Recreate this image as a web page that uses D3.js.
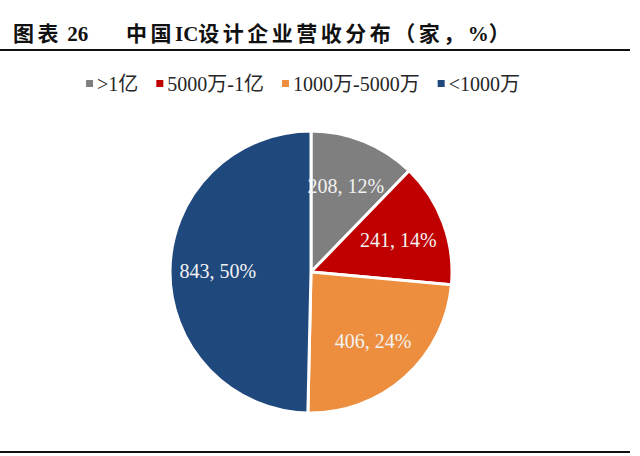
<!DOCTYPE html>
<html>
<head>
<meta charset="utf-8">
<script src="https://cdn.jsdelivr.net/npm/d3@7"></script>
<style>
  body { margin: 0; background: #fff; }
  svg { display: block; }
  text { font-family: "Liberation Serif", "DejaVu Serif", "Noto Sans CJK SC", serif; }
</style>
</head>
<body>
<svg id="chart"></svg>
<script>
// chart data
const categories = [">1亿", "5000万-1亿", "1000万-5000万", "<1000万"];
const counts = [208, 241, 406, 843];
const colors = ["#7f7f7f", "#c00000", "#ed8e3e", "#1f497d"];
const titleNo = "图表 26";
const titleText = "中国IC设计企业营收分布（家，%）";

const width = 640, height = 456;

const svg = d3.select("#chart")
    .attr("width", width)
    .attr("height", height);

// title: CJK runs get a bit of spacing, latin runs don't
function addTitle(str, x) {
  const t = svg.append("text")
      .attr("x", x)
      .attr("y", 41)
      .attr("font-weight", "bold")
      .attr("font-size", 21)
      .attr("fill", "#111");
  const runs = str.match(/[\u4e00-\u9fff\uff00-\uffef]+|[^\u4e00-\u9fff\uff00-\uffef]+/g);
  runs.forEach(r => {
    const cjk = /[\u4e00-\u9fff\uff00-\uffef]/.test(r);
    t.append("tspan")
        .attr("letter-spacing", cjk ? 3.5 : 0)
        .text(r);
  });
}
addTitle(titleNo, 13);
addTitle(titleText, 126);

svg.append("line")
    .attr("x1", 0).attr("x2", 630)
    .attr("y1", 50).attr("y2", 50)
    .attr("stroke", "#111").attr("stroke-width", 2);

svg.append("line")
    .attr("x1", 0).attr("x2", 630)
    .attr("y1", 452).attr("y2", 452)
    .attr("stroke", "#111").attr("stroke-width", 2);

// legend
const legend = svg.append("g");
const gap = 18;
let lx = 0;
categories.forEach((c, i) => {
  const g = legend.append("g").attr("transform", `translate(${lx},0)`);
  g.append("rect")
      .attr("x", 0).attr("y", -4)
      .attr("width", 7).attr("height", 7)
      .attr("fill", colors[i]);
  const t = g.append("text")
      .attr("x", 11)
      .attr("y", 0)
      .attr("dy", "0.35em")
      .attr("font-size", 20)
      .attr("fill", "#262626")
      .text(c);
  lx += 11 + t.node().getComputedTextLength() + gap;
});
lx -= gap;
legend.attr("transform", `translate(${(303 - lx / 2)},84)`);

// pie
const cx = 311, cy = 272, R = 141;
const total = d3.sum(counts);
const pct = d3.format(".0%");

const pie = d3.pie().sort(null).value(d => d);
const arcs = pie(counts);
const arc = d3.arc().innerRadius(0).outerRadius(R);
const labelArc = d3.arc().innerRadius(R * 0.66).outerRadius(R * 0.66);

const chart = svg.append("g").attr("transform", `translate(${cx},${cy})`);

chart.selectAll(".slice")
    .data(arcs)
    .enter()
  .append("path")
    .attr("class", "slice")
    .attr("d", arc)
    .attr("fill", (d, i) => colors[i])
    .attr("stroke", "#fff")
    .attr("stroke-width", 3)
    .attr("stroke-linejoin", "miter");

chart.selectAll(".lbl")
    .data(arcs)
    .enter()
  .append("text")
    .attr("class", "lbl")
    .attr("transform", d => `translate(${labelArc.centroid(d)})`)
    .attr("text-anchor", "middle")
    .attr("dy", "0.35em")
    .attr("font-size", 20)
    .attr("fill", "#f2f2f2")
    .text(d => `${d.data}, ${pct(d.data / total)}`);
</script>
</body>
</html>
